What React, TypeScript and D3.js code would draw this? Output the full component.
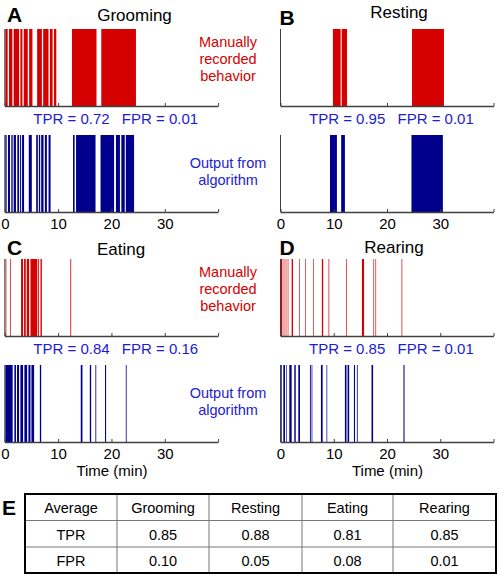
import React from 'react';
import * as d3 from 'd3';

// ---- data (minutes) ----
const groomingManual: [number, number][] = [
  [0, 0.44], [0.69, 1.32], [1.57, 2.58], [2.83, 3.21], [3.46, 4.21], [4.47, 5.09],
  [5.97, 6.86], [7.1, 8.1], [8.36, 8.87], [9.12, 9.56], [12.5, 17.1], [18.0, 24.5],
];
const groomingAlgo: [number, number][] = [
  [0, 0.25], [0.5, 0.88], [1.13, 1.38], [1.57, 2.0], [2.26, 2.58], [2.77, 2.96],
  [3.14, 3.52], [4.4, 4.97], [5.79, 6.1], [6.29, 6.54], [6.73, 7.17], [7.42, 7.8],
  [8.11, 8.49], [12.7, 13.0], [13.27, 16.92], [17.86, 20.4], [20.75, 21.5],
  [21.76, 22.4], [22.6, 24.15],
];
const restingManual: [number, number][] = [[9.75, 11.2], [11.4, 12.4], [24.6, 30.6]];
const restingAlgo: [number, number][] = [[9.2, 10.5], [11.3, 12.0], [24.5, 30.4]];
const eatingManual: [number, number][] = [
  [0.06, 0.19], [0.94, 1.07], [2.96, 3.33], [3.52, 3.84], [4.03, 4.47], [4.72, 5.97],
  [6.1, 6.29], [6.6, 6.86], [12.2, 12.35],
];
const eatingAlgo: [number, number][] = [
  [0, 1.38], [1.7, 2.0], [2.2, 2.58], [2.83, 3.33], [3.58, 4.09], [4.34, 4.72],
  [4.9, 5.4], [6.48, 6.73], [14.15, 14.47], [15.85, 16.1], [16.9, 17.05],
  [18.7, 18.9], [22.6, 22.75],
];
const rearingManual: [number, number][] = [
  [0, 0.25], [0.5, 0.63], [0.88, 1.0], [1.26, 1.38], [2.0, 2.26], [3.4, 3.52],
  [4.53, 4.65], [6.04, 6.16], [7.67, 7.92], [8.93, 9.06], [12.2, 12.33],
  [15.2, 15.6], [17.36, 17.48], [17.74, 17.86], [22.64, 22.77],
];
const rearingAlgo: [number, number][] = [
  [0, 0.13], [0.44, 0.75], [1.0, 1.12], [1.56, 2.0], [2.5, 2.77], [3.25, 3.56],
  [5.44, 5.6], [5.75, 5.88], [7.5, 7.82], [8.55, 8.68], [12.0, 12.3], [12.5, 12.8],
  [13.7, 13.9], [14.25, 14.4], [17.0, 17.3], [23.0, 23.2],
];

const behaviors = ['Grooming', 'Resting', 'Eating', 'Rearing'];
const panelLetters = ['A', 'B', 'C', 'D'];
const tprValues = ['0.72', '0.95', '0.84', '0.85'];
const fprValues = ['0.01', '0.01', '0.16', '0.01'];
const manualSeries = [groomingManual, restingManual, eatingManual, rearingManual];
const algoSeries = [groomingAlgo, restingAlgo, eatingAlgo, rearingAlgo];
const xTicks = [0, 10, 20, 30];
const xTickMarks = [0, 10, 20, 30, 40];

const tableHeader = ['Average', 'Grooming', 'Resting', 'Eating', 'Rearing'];
const tableTPR = ['TPR', '0.85', '0.88', '0.81', '0.85'];
const tableFPR = ['FPR', '0.10', '0.05', '0.08', '0.01'];

// ---- styling ----
const RED = '#d50000';
const NAVY = '#00008c';
const BLUE_TEXT = '#1c1cd2';
const AXIS = '#404040';
const FONT = '"Liberation Sans", Arial, Helvetica, sans-serif';

const colRanges: [number, number][] = [[5.3, 218.6], [281, 494]];
const rowOffsets = [0, 230];

function Strip({ data, x, top, bottom, color, labels }: any) {
  return (
    <g>
      {data.map((d: [number, number], i: number) => (
        <rect key={i} x={x(d[0])} y={top} width={Math.max(0.3, x(d[1]) - x(d[0]))}
          height={bottom - top} fill={color} />
      ))}
      <line x1={x(0) - 0.5} x2={x(0) - 0.5} y1={top} y2={bottom} stroke={AXIS} strokeWidth={1} />
      <line x1={x(0) - 0.5} x2={x(40)} y1={bottom + 0.5} y2={bottom + 0.5} stroke={AXIS} strokeWidth={1.6} />
      {xTickMarks.map((t) => (
        <line key={t} x1={x(t)} x2={x(t)} y1={bottom} y2={bottom - 3} stroke={AXIS} strokeWidth={1} />
      ))}
      {labels && xTicks.map((t) => (
        <text key={t} x={x(t)} y={bottom + 16.5} textAnchor="middle" fontSize={15} fill="#000">{t}</text>
      ))}
    </g>
  );
}

export default function App() {
  const W = 498, H = 574;
  const tableCols = [25, 117, 209, 302, 393, 496];
  const tableRows = [494, 520.5, 547, 573];
  const rowsData = [tableHeader, tableTPR, tableFPR];
  return (
    <svg width={W} height={H} style={{ position: 'absolute', left: 0, top: 0, fontFamily: FONT }}>
      <rect width={W} height={H} fill="#fff" />
      {behaviors.map((b, i) => {
        const col = i % 2, row = Math.floor(i / 2);
        const oy = rowOffsets[row];
        const x = d3.scaleLinear().domain([0, 40]).range(colRanges[col]);
        const letterY = [22, 25, 255, 255][i];
        const titleY = [20.5, 17.5, 255, 252.5][i];
        const titleX = [134.5, 399, 121, 394][i];
        return (
          <g key={b}>
            <text x={col === 0 ? 7 : 279.5} y={letterY} fontSize={21} fontWeight="bold">{panelLetters[i]}</text>
            <text x={titleX} y={titleY} fontSize={17} textAnchor="middle">{b}</text>
            <Strip data={manualSeries[i]} x={x} top={29 + oy} bottom={106 + oy} color={RED} labels={false} />
            <Strip data={algoSeries[i]} x={x} top={135 + oy} bottom={212 + oy} color={NAVY} labels={true} />
            <text x={x(0) + 28} y={124 + oy} fontSize={15} fill={BLUE_TEXT}>{`TPR = ${tprValues[i]}`}</text>
            <text x={x(0) + 116.5} y={124 + oy} fontSize={15} fill={BLUE_TEXT}>{`FPR = ${fprValues[i]}`}</text>
            {row === 1 && (
              <text x={x(20)} y={476 } fontSize={15} textAnchor="middle">Time (min)</text>
            )}
            {col === 0 && (
              <g fontSize={14.5} textAnchor="middle">
                <text x={228} y={47 + oy} fill={RED}>Manually</text>
                <text x={228} y={64 + oy} fill={RED}>recorded</text>
                <text x={228} y={81 + oy} fill={RED}>behavior</text>
                <text x={228} y={168 + oy} fill={BLUE_TEXT}>Output from</text>
                <text x={228} y={185 + oy} fill={BLUE_TEXT}>algorithm</text>
              </g>
            )}
          </g>
        );
      })}
      {/* table E */}
      <text x={2} y={515} fontSize={21} fontWeight="bold">E</text>
      {tableCols.slice(1, -1).map((c) => (
        <line key={c} x1={c} x2={c} y1={tableRows[0]} y2={tableRows[3]} stroke="#777" strokeWidth={1} />
      ))}
      {tableRows.slice(1, -1).map((r) => (
        <line key={r} x1={tableCols[0]} x2={tableCols[5]} y1={r} y2={r} stroke="#777" strokeWidth={1} />
      ))}
      <rect x={tableCols[0]} y={tableRows[0]} width={tableCols[5] - tableCols[0]} height={tableRows[3] - tableRows[0]}
        fill="none" stroke="#000" strokeWidth={2} />
      {rowsData.map((r, ri) => r.map((v, ci) => (
        <text key={`${ri}-${ci}`} x={(tableCols[ci] + tableCols[ci + 1]) / 2} y={tableRows[ri] + 19}
          fontSize={14.5} textAnchor="middle">{v}</text>
      )))}
    </svg>
  );
}
